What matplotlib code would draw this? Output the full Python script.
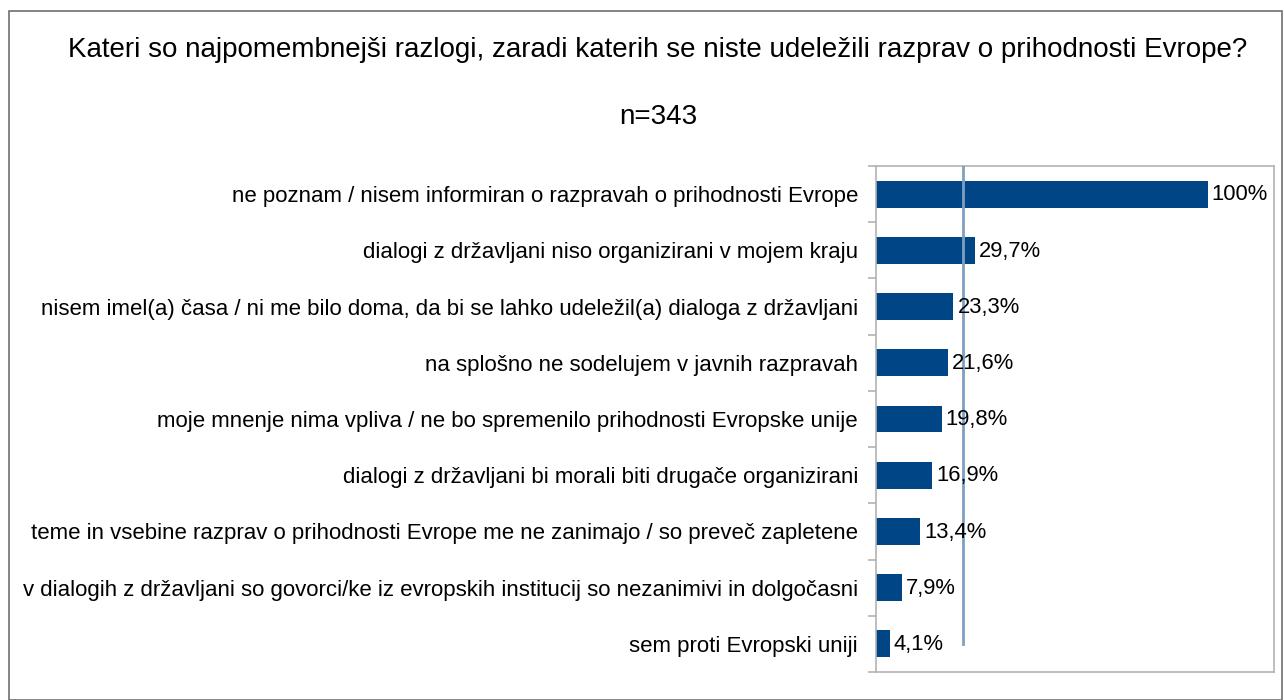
import numpy as np
import matplotlib
matplotlib.use("Agg")
import matplotlib.pyplot as plt
from matplotlib.patches import Rectangle

plt.rcParams['font.family'] = ['Liberation Sans', 'DejaVu Sans']

title = "Kateri so najpomembnejši razlogi, zaradi katerih se niste udeležili razprav o prihodnosti Evrope?"
subtitle = "n=343"

categories = [
    "ne poznam / nisem informiran o razpravah o prihodnosti Evrope",
    "dialogi z državljani niso organizirani v mojem kraju",
    "nisem imel(a) časa / ni me bilo doma, da bi se lahko udeležil(a) dialoga z državljani",
    "na splošno ne sodelujem v javnih razpravah",
    "moje mnenje nima vpliva / ne bo spremenilo prihodnosti Evropske unije",
    "dialogi z državljani bi morali biti drugače organizirani",
    "teme in vsebine razprav o prihodnosti Evrope me ne zanimajo / so preveč zapletene",
    "v dialogih z državljani so govorci/ke iz evropskih institucij so nezanimivi in dolgočasni",
    "sem proti Evropski uniji",
]
values = [100, 29.7, 23.3, 21.6, 19.8, 16.9, 13.4, 7.9, 4.1]
value_labels = ["100%", "29,7%", "23,3%", "21,6%", "19,8%", "16,9%", "13,4%", "7,9%", "4,1%"]

bar_color = "#004586"
avg_color = "#7f9fc0"
frame_color = "#b3b3b3"

fig = plt.figure(figsize=(12.84, 7.0), dpi=100)
ax = fig.add_axes([876 / 1284, 1 - 672 / 700, 398 / 1284, 506 / 700])

y = np.arange(len(categories))
ax.barh(y, values, height=0.48, color=bar_color)

avg = np.mean(values)
ax.plot([avg, avg], [-0.5, len(categories) - 1], color=avg_color, lw=2, zorder=3)

for yi, v, lab in zip(y, values, value_labels):
    ax.annotate(lab, (v, yi), xytext=(3.0, -0.5), textcoords="offset points",
                va="center", ha="left", fontsize=15.8, color="black", zorder=4)

ax.set_xlim(0, 120)
ax.set_ylim(len(categories) - 0.5, -0.5)
ax.set_xticks([])
ax.set_yticks(y)
ax.set_yticklabels(categories, fontsize=16.0)
ax.tick_params(axis="y", which="major", length=0, pad=13)
ax.set_yticks(np.arange(-0.5, len(categories), 1), minor=True)
ax.tick_params(axis="y", which="minor", length=6, color=frame_color, width=1.2)

for s in ax.spines.values():
    s.set_color(frame_color)
    s.set_linewidth(1.2)

fig.text(658 / 1284, 1 - 50 / 700, title, ha="center", va="center", fontsize=20.0)
fig.text(658 / 1284, 1 - 117 / 700, subtitle, ha="center", va="center", fontsize=20.0)

fig.patches.append(Rectangle((9 / 1284, 0), 1 - 11 / 1284, 1 - 11 / 700,
                             transform=fig.transFigure, fill=False,
                             edgecolor="#707070", lw=1.2))

fig.savefig("out.png", dpi=100)
